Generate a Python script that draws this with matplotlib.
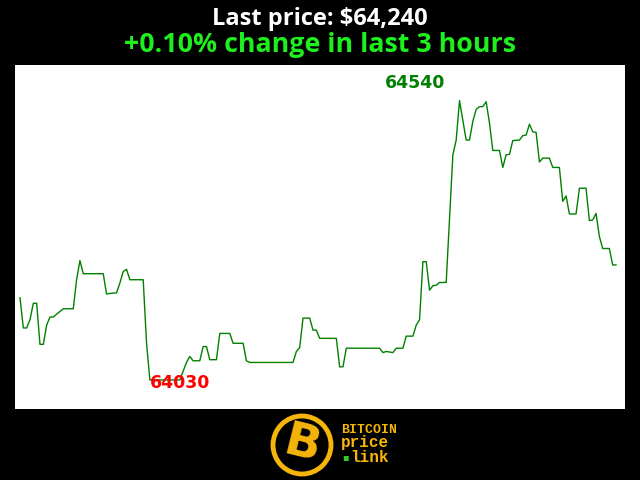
import matplotlib
matplotlib.use("Agg")
import matplotlib.pyplot as plt
from matplotlib.patches import Circle

# minute index within the last 3 hours, and the price at that minute (line vertices)
minutes = [0, 1, 2, 3, 4, 5, 6, 7, 8, 9, 10, 12, 13, 16, 17, 18, 19, 25, 26, 27,
           29, 30, 31, 32, 33, 37, 38, 39, 48, 50, 51, 52, 54, 55, 56, 57, 59, 60, 63, 64,
           67, 68, 69, 82, 83, 84, 85, 87, 88, 89, 90, 95, 96, 97, 98, 108, 109, 110, 112, 113,
           115, 116, 118, 119, 120, 121, 122, 123, 124, 125, 126, 128, 130, 131, 132, 134, 135, 136, 137, 138,
           139, 140, 141, 142, 144, 145, 146, 147, 148, 150, 151, 152, 153, 154, 155, 156, 157, 159, 160, 162,
           163, 164, 165, 167, 168, 170, 171, 172, 173, 174, 175, 177, 178, 179]
prices = [64180, 64125, 64125, 64140, 64170, 64170, 64095, 64095, 64130, 64145, 64145, 64155, 64160, 64160, 64213, 64248, 64224, 64224, 64187, 64188,
          64189, 64207, 64228, 64232, 64213, 64213, 64098, 64030, 64030, 64062, 64073, 64065, 64065, 64091, 64091, 64067, 64067, 64115, 64115, 64097,
          64097, 64065, 64062, 64062, 64082, 64089, 64143, 64143, 64121, 64121, 64106, 64106, 64054, 64054, 64088, 64088, 64080, 64082, 64080, 64088,
          64088, 64110, 64110, 64130, 64140, 64246, 64246, 64194, 64202, 64203, 64208, 64208, 64441, 64468, 64540, 64468, 64468, 64502, 64524, 64529,
          64529, 64538, 64499, 64449, 64449, 64418, 64441, 64442, 64467, 64468, 64476, 64477, 64497, 64483, 64482, 64428, 64435, 64435, 64418, 64418,
          64356, 64366, 64333, 64333, 64380, 64380, 64321, 64322, 64334, 64292, 64270, 64270, 64240, 64240]

last_price = "$64,240"
change = "+0.10%"
hi_label = "64540"
lo_label = "64030"

fig = plt.figure(figsize=(6.4, 4.8), dpi=100, facecolor="black")
fig.text(0.5, 0.961, f"Last price: {last_price}", color="white", fontsize=17,
         fontweight="bold", family="Open Sans", ha="center", va="center")
fig.text(0.5, 0.906, f"{change} change in last 3 hours", color="#1ef01e", fontsize=19.3,
         fontweight="bold", family="Open Sans", ha="center", va="center")

ax = fig.add_axes([15 / 640, 71 / 480, 610 / 640, 344 / 480])
ax.set_facecolor("white")
ax.plot(minutes, prices, color="green", linewidth=1)
ax.set_xlim(-1.5, 181.7)
ax.set_ylim(63977, 64605)
for s in ax.spines.values():
    s.set_visible(False)
ax.set_xticks([])
ax.set_yticks([])

imax = prices.index(max(prices))
imin = prices.index(min(prices))
ax.annotate(hi_label, (minutes[imax], prices[imax]), xytext=(-10, 12.5), textcoords="offset points",
            color="green", fontsize=12.5, fontweight="bold", ha="right", va="center")
ax.annotate(lo_label, (minutes[imin], prices[imin]), xytext=(0, -2), textcoords="offset points",
            color="red", fontsize=12.5, fontweight="bold", ha="left", va="center")

# logo
gold = "#f5b50a"
ring = Circle((3.02, 0.35), 0.29, transform=fig.dpi_scale_trans, facecolor="black",
              edgecolor=gold, linewidth=3.5)
fig.patches.append(ring)
fig.text(3.02 / 6.4, 0.35 / 4.8, "B", color=gold, fontsize=34, fontweight="heavy",
         rotation=-14, ha="center", va="center", family="DejaVu Sans")
fig.text(341 / 640, 1 - 430 / 480, "BITCOIN", color=gold, fontsize=9.5, fontweight="bold",
         family="Liberation Mono", va="center")
fig.text(341 / 640, 1 - 443 / 480, "price", color=gold, fontsize=11.5, fontweight="bold",
         family="Liberation Mono", va="center")
fig.text(342 / 640, 1 - 457 / 480, "\u25aa", color="#2ecc2e", fontsize=7,
         family="DejaVu Sans", va="center")
fig.text(350 / 640, 1 - 457 / 480, "link", color=gold, fontsize=11.5, fontweight="bold",
         family="Liberation Mono", va="center")

fig.savefig("out.png", dpi=100, facecolor="black")
